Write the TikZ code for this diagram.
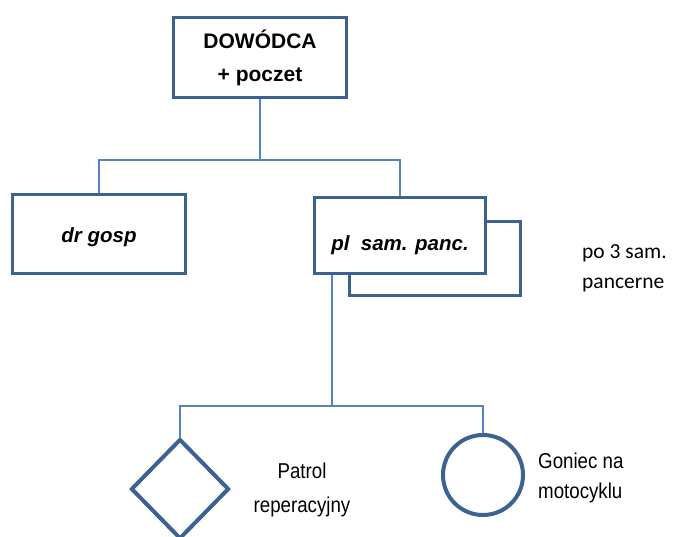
\documentclass[tikz,border=0pt]{standalone}
\usepackage{fontspec}
\setmainfont{Liberation Sans}
\newfontfamily\calib{Carlito}
\usetikzlibrary{shapes.geometric}
\definecolor{boxc}{HTML}{3C6291}
\definecolor{linec}{HTML}{5583BE}
\tikzset{
  unitbox/.style={draw=boxc, line width=3pt, fill=white, rectangle, minimum width=173pt, minimum height=79pt, inner sep=0pt, align=center, font=\fontsize{21}{33}\selectfont},
  conn/.style={draw=linec, line width=2.5pt},
  lbl/.style={inner sep=0pt, align=center, font=\fontsize{21}{33}\selectfont},
  side/.style={inner sep=0pt, align=left, font=\fontsize{21}{31}\selectfont},
}
\begin{document}
\begin{tikzpicture}[x=1pt,y=-1pt]
\useasboundingbox (0,0) rectangle (680,536);
% back box
\node[unitbox, minimum width=171pt, minimum height=74pt] (back) at (435,258.5) {};
% top box
\node[unitbox, minimum width=173pt, minimum height=80pt] (top) at (260,57.5) {\bfseries DOWÓDCA\\\bfseries + poczet};
\node[unitbox, minimum width=173pt, minimum height=79pt, font=\fontsize{20.5}{33}\selectfont, text height=16pt, text depth=0pt] (dr) at (99,234) {\bfseries\itshape dr gosp};
\node[unitbox, minimum width=171pt, minimum height=76pt, font=\fontsize{20.5}{33}\selectfont, text height=30pt, text depth=0pt] (pl) at (400,235) {\bfseries\itshape pl\ \ sam. panc.};
% side text
\node[side, anchor=west, font=\calib\fontsize{21.5}{30}\selectfont] (side) at (582,268) {po 3 sam.\\pancerne};
% connectors top
\coordinate (j1) at (260,160);
\draw[conn] (top.south) -- (j1);
\draw[conn] (dr.north) |- (j1) -| (pl.north);
% lower shapes
\node[draw=boxc, line width=4pt, shape=diamond, minimum width=98pt, minimum height=100pt, inner sep=0pt] (dia) at (180,489) {};
\node[draw=boxc, line width=4pt, circle, minimum size=80pt, inner sep=0pt] (circ) at (483,475) {};
\coordinate (j2) at (332,406);
\draw[conn] (j2 |- pl.south) -- (j2);
\draw[conn] (dia.north) |- (j2) -| (circ.north);
% labels
\node[lbl, font=\fontsize{21.5}{34}\selectfont] (patrol) at (302,490) {\scalebox{0.87}[1]{Patrol}\\\scalebox{0.87}[1]{reperacyjny}};
\node[side, anchor=west, font=\fontsize{21.5}{30}\selectfont] (goniec) at (538,478) {\scalebox{0.87}[1]{Goniec na}\\\scalebox{0.87}[1]{motocyklu}};
\end{tikzpicture}
\end{document}
